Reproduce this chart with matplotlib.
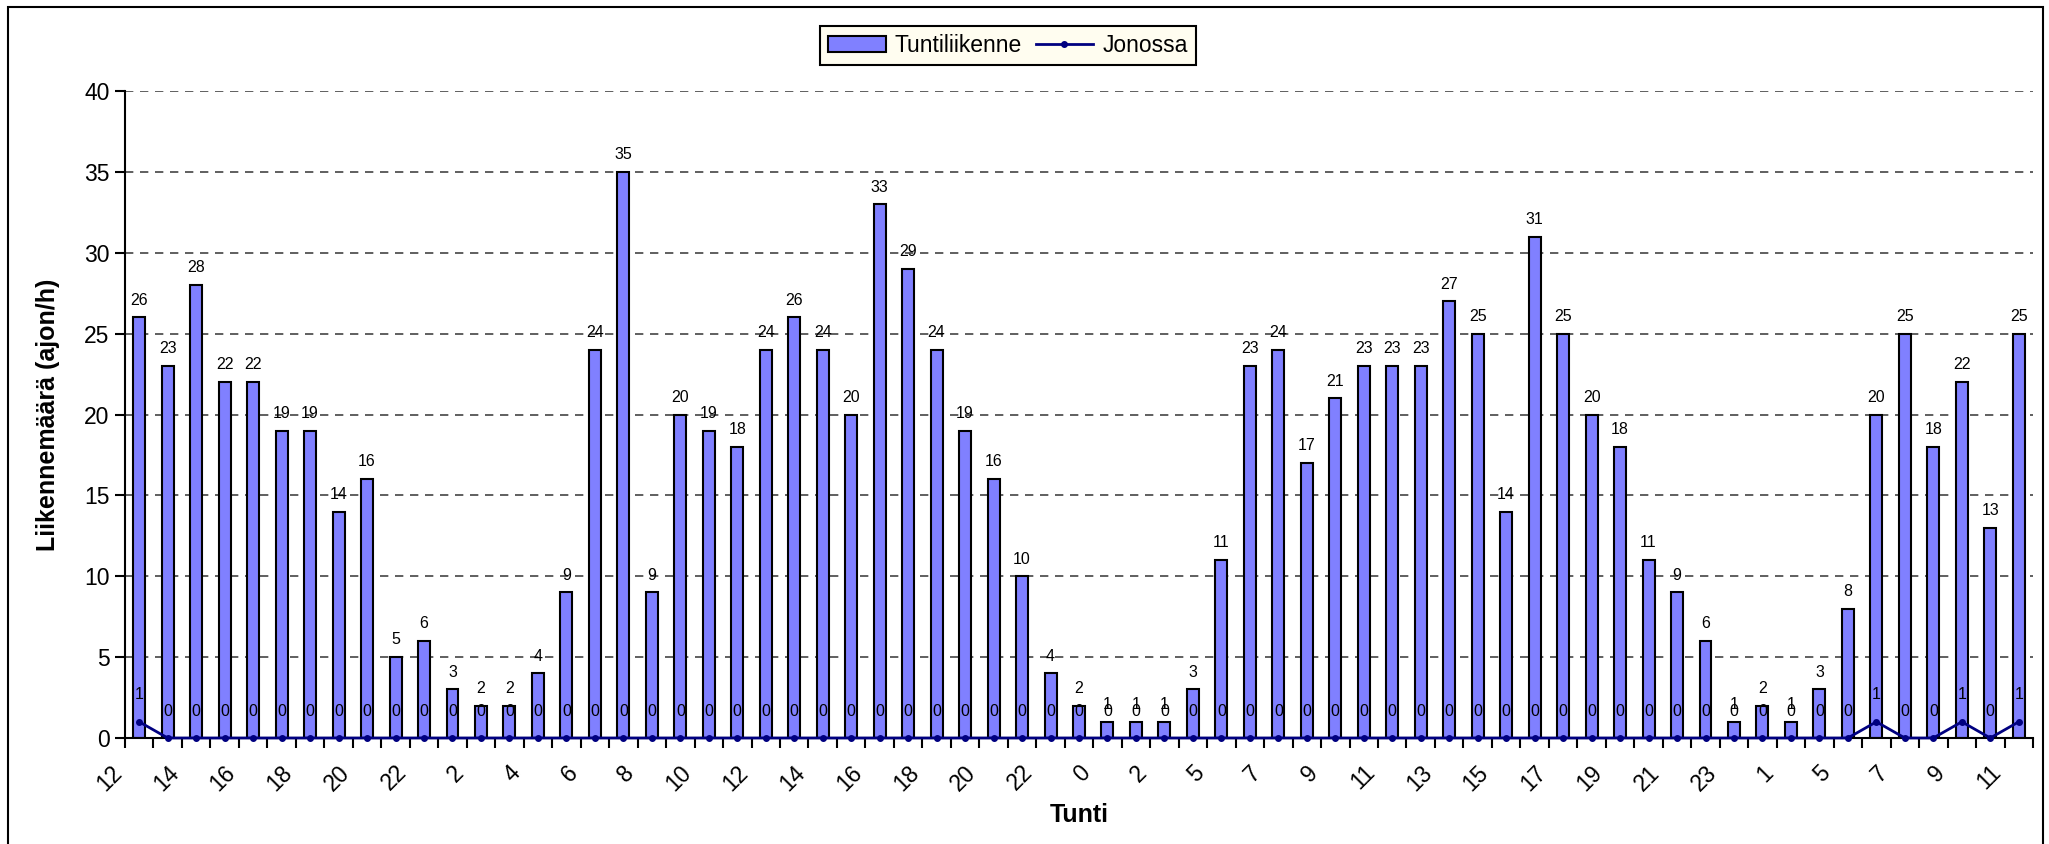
import numpy as np
import matplotlib
matplotlib.use("Agg")
import matplotlib.pyplot as plt
import matplotlib.transforms as mtransforms
from matplotlib.patches import Rectangle, Patch
from matplotlib.lines import Line2D

plt.rcParams['font.family'] = ['Liberation Sans', 'DejaVu Sans']

# tuntiliikenne ja jonossa olevat ajoneuvot tunneittain
tunnit = [12, 13, 14, 15, 16, 17, 18, 19, 20, 21, 22, 23, 2, 3, 4, 5, 6, 7, 8, 9,
          10, 11, 12, 13, 14, 15, 16, 17, 18, 19, 20, 21, 22, 23, 0, 1, 2, 3, 5, 6,
          7, 8, 9, 10, 11, 12, 13, 14, 15, 16, 17, 18, 19, 20, 21, 22, 23, 0, 1, 4,
          5, 6, 7, 8, 9, 10, 11]
tuntiliikenne = [26, 23, 28, 22, 22, 19, 19, 14, 16, 5, 6, 3, 2, 2, 4, 9, 24, 35, 9, 20,
                 19, 18, 24, 26, 24, 20, 33, 29, 24, 19, 16, 10, 4, 2, 1, 1, 1, 3, 11, 23,
                 24, 17, 21, 23, 23, 23, 27, 25, 14, 31, 25, 20, 18, 11, 9, 6, 1, 2, 1, 3,
                 8, 20, 25, 18, 22, 13, 25]
jonossa = [1, 0, 0, 0, 0, 0, 0, 0, 0, 0, 0, 0, 0, 0, 0, 0, 0, 0, 0, 0,
           0, 0, 0, 0, 0, 0, 0, 0, 0, 0, 0, 0, 0, 0, 0, 0, 0, 0, 0, 0,
           0, 0, 0, 0, 0, 0, 0, 0, 0, 0, 0, 0, 0, 0, 0, 0, 0, 0, 0, 0,
           0, 1, 0, 0, 1, 0, 1]

W, H = 2049, 844
fig = plt.figure(figsize=(W / 100, H / 100), dpi=100)
ax = fig.add_axes([125 / W, 1 - 738 / H, (2033 - 125) / W, (738 - 91) / H])

x = np.arange(len(tuntiliikenne))
ax.bar(x, tuntiliikenne, width=0.42, color='#8080FF', edgecolor='black',
       linewidth=1.5, zorder=2)
ax.plot(x, jonossa, color='#000080', lw=2, marker='o', ms=4, zorder=4, clip_on=False)

for i, v in enumerate(tuntiliikenne):
    ax.annotate(str(v), (i, v), xytext=(0, 7), textcoords='offset points',
                ha='center', va='bottom', fontsize=11.5, zorder=5)
for i, v in enumerate(jonossa):
    ax.annotate(str(v), (i, v), xytext=(0, 14), textcoords='offset points',
                ha='center', va='bottom', fontsize=11.5, zorder=5)

ax.set_xlim(-0.5, len(x) - 0.5)
ax.set_ylim(0, 40)
ax.set_yticks(np.arange(0, 41, 5))
ax.tick_params(axis='y', labelsize=16.5, length=7, width=1.5, direction='out', pad=4)

# tick-viivat kategorioiden väleissä, tekstit joka toisen keskellä
ax.set_xticks(np.arange(-0.5, len(x), 1))
ax.set_xticklabels([])
ax.set_xticks(x[::2], minor=True)
ax.set_xticklabels([str(t) for t in tunnit[::2]], minor=True)
ax.tick_params(axis='x', which='major', length=7, width=1.5, direction='out')
ax.tick_params(axis='x', which='minor', length=0, pad=0, labelsize=16.5)
offset = mtransforms.ScaledTranslation(-0.21, -0.31, fig.dpi_scale_trans)
for lab in ax.get_xticklabels(minor=True):
    lab.set_rotation(45)
    lab.set_ha('right')
    lab.set_va('center')
    lab.set_rotation_mode('anchor')
    lab.set_transform(lab.get_transform() + offset)

ax.yaxis.grid(True, linestyle=(0, (5, 4)), color='#444444', lw=1.2)
ax.set_axisbelow(True)
for s in ['top', 'right']:
    ax.spines[s].set_visible(False)
for s in ['left', 'bottom']:
    ax.spines[s].set_linewidth(1.5)

ax.set_ylabel('Liikennemäärä (ajon/h)', fontsize=18, fontweight='bold')
ax.yaxis.set_label_coords((60 - 125) / 1908, 0.5)
ax.set_xlabel('Tunti', fontsize=18, fontweight='bold', va='top')
ax.xaxis.set_label_coords(0.5, (738 - 803) / 647)

handles = [Patch(facecolor='#8080FF', edgecolor='black', linewidth=1.5),
           Line2D([0], [0], color='#000080', lw=2, marker='o', ms=4)]
leg = fig.legend(handles, ['Tuntiliikenne', 'Jonossa'], loc='center',
                 bbox_to_anchor=(1008 / W, 1 - 45.5 / H), ncol=2, fontsize=16.5,
                 fancybox=False, facecolor='#FFFDF0', edgecolor='black', framealpha=1,
                 handlelength=2.5, handletextpad=0.4, columnspacing=0.6,
                 borderpad=0.35, borderaxespad=0.2)
leg.get_frame().set_linewidth(1.5)

# kehys koko kuvan ympärille
fig.patches.append(Rectangle((8 / W, -0.05), (2043 - 8) / W, 1.05 - 7 / H,
                             transform=fig.transFigure, fill=False,
                             edgecolor='black', lw=1.5))

fig.savefig('out.png', dpi=100)
